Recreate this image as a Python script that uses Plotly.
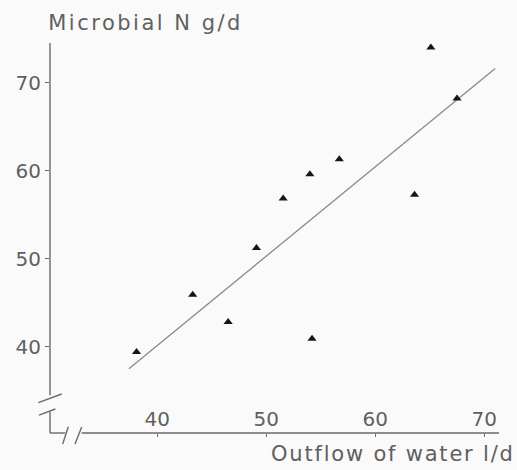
import plotly.graph_objects as go

# Data
outflow_water = [38.1, 43.25, 46.5, 49.1, 51.55, 54.0, 54.2, 56.7, 63.6, 65.1, 67.5]
microbial_n = [39.4, 45.9, 42.8, 51.2, 56.85, 59.6, 40.9, 61.3, 57.25, 74.0, 68.2]
fit_x = [37.4, 71.0]
fit_y = [37.5, 71.6]
tick_vals = [40, 50, 60, 70]
tick_text = ["40", "50", "60", "70"]

INK = "#6a6a6a"
TXT = "#606060"
FONT = "DejaVu Sans"

fig = go.Figure()
fig.add_trace(go.Scatter(x=fit_x, y=fit_y, mode="lines",
                         line=dict(color="#8a8a8a", width=1.3),
                         hoverinfo="skip", showlegend=False))
fig.add_trace(go.Scatter(x=outflow_water, y=microbial_n, mode="markers",
                         marker=dict(symbol="triangle-up", size=8, color="#151515"),
                         showlegend=False, cliponaxis=False))

axis_common = dict(showgrid=False, zeroline=False, showline=False,
                   automargin=False,
                   tickvals=tick_vals, ticktext=tick_text,
                   tickcolor=INK, tickwidth=1.3,
                   tickfont=dict(family=FONT, size=20, color=TXT))
fig.update_xaxes(range=[30.16, 71.35], ticks="outside", ticklen=3,
                 ticklabelposition="inside", **axis_common)
fig.update_yaxes(range=[30.2, 74.5], ticks="outside", ticklen=4, **axis_common)

# Broken axis lines (paper coordinates)
segs = [
    (0, 1.0, 0, 0.097),          # y axis main
    (0, 0.054, 0, 0.0),          # y axis lower stub
    (0, 0.0, 0.034, 0.0),        # x axis stub
    (0.0706, 0.0, 1.0, 0.0),     # x axis main
    (-0.026, 0.0777, 0.026, 0.10),   # y break slash 1
    (-0.0245, 0.046, 0.012, 0.0615), # y break slash 2
    (0.0283, -0.0282, 0.0408, 0.0162),  # x break slash 1
    (0.0557, -0.0282, 0.0706, 0.0154),  # x break slash 2
]
for x0, y0, x1, y1 in segs:
    fig.add_shape(type="line", xref="paper", yref="paper",
                  x0=x0, y0=y0, x1=x1, y1=y1,
                  line=dict(color=INK, width=1.4))

fig.add_annotation(text="Microbial N g/d", xref="paper", yref="paper",
                   x=0.034, y=1.0, yshift=20, xanchor="left", yanchor="middle",
                   showarrow=False, font=dict(family=FONT, size=21, color=TXT))
fig.add_annotation(text="Outflow of water l/d", xref="paper", yref="paper",
                   x=1.0, y=0.0, yshift=-21, xanchor="right", yanchor="middle",
                   showarrow=False, font=dict(family=FONT, size=21, color=TXT))

fig.update_layout(width=517, height=470,
                  margin=dict(l=50, r=18, t=43, b=37, autoexpand=False),
                  paper_bgcolor="#fafafa", plot_bgcolor="#fafafa",
                  showlegend=False)

fig.write_html("out.html",
               config={"displayModeBar": False},
               post_script=("document.body.style.margin='0';"
                            "document.body.style.overflow='hidden';"
                            "var sp=['2.5px','1.8px'];"
                            "document.querySelectorAll('.annotation-text').forEach("
                            "function(e,i){e.style.letterSpacing=sp[i]||'2px';});"))
